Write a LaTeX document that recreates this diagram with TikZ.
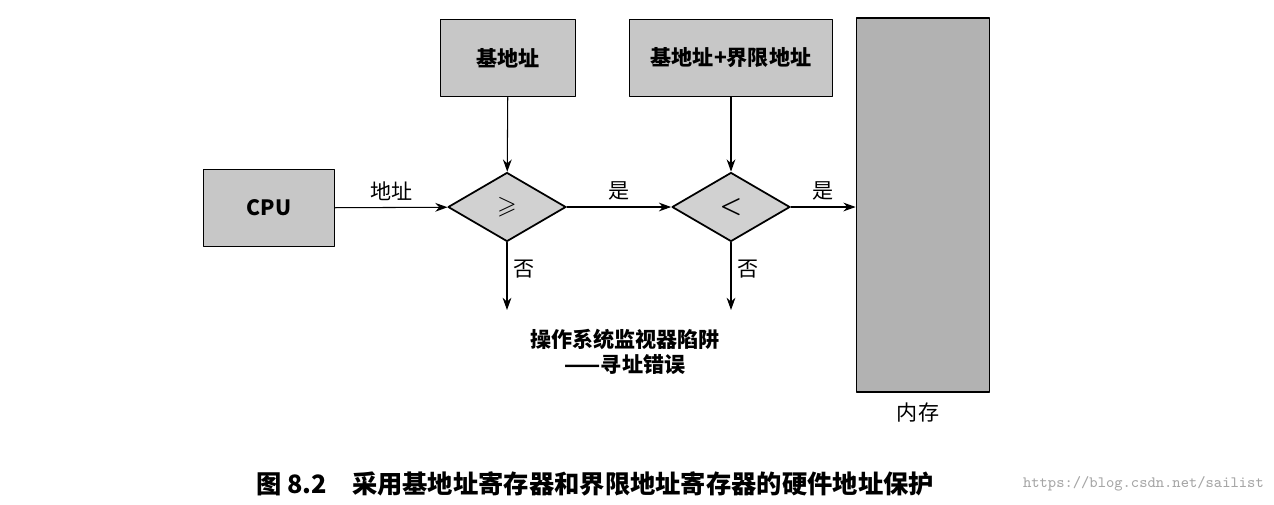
\documentclass[tikz,border=0pt]{standalone}
\usepackage{amssymb}
\usepackage{fontspec}
\newfontfamily\cjk{Noto Sans CJK SC}
\usetikzlibrary{shapes.geometric,arrows.meta}
\begin{document}
\begin{tikzpicture}[x=0.02cm,y=-0.02cm,line cap=round,line join=round,
    regbox/.style={draw,line width=1pt,fill=black!22,minimum width=2.7cm,minimum height=1.54cm,font=\cjk\bfseries\large},
    cmpbox/.style={draw,line width=1pt,fill=black!18,diamond,aspect=1.7,minimum width=2.36cm,minimum height=1.38cm,inner sep=0pt,font=\Large\boldmath},
    lbl/.style={font=\cjk\large},
    arr/.style={-{Stealth[length=7pt,width=5pt]},line width=0.6pt}]
  \useasboundingbox (0,0) rectangle (1274,504);
  % registers
  \node[regbox] (base) at (508,58) {基地址};
  \node[regbox,minimum width=4.06cm] (limit) at (731,58) {基地址+界限地址};
  \node[regbox,minimum width=2.62cm] (cpu) at (269,208) {CPU};
  \node[draw,line width=1pt,fill=black!30,minimum width=2.66cm,minimum height=7.48cm] (mem) at (923,205) {};
  \node[lbl] (memlbl) at (918,413) {内存};
  % comparators
  \node[cmpbox] (ge) at (507,207) {$\geqslant$};
  \node[cmpbox] (lt) at (731,207) {$<$};
  \coordinate (geout) at (507,310);
  \coordinate (ltout) at (731,310);
  % arrows
  \draw[arr] (base) -- (ge);
  \draw[arr] (limit) -- (lt);
  \draw[arr] (cpu) -- node[lbl,above] {地址} (ge);
  \draw[arr] (ge) -- node[lbl,above] {是} (lt);
  \draw[arr] (lt) -- node[lbl,above] {是} (mem.west |- lt);
  \draw[arr] (ge) -- node[lbl,right,pos=0.4] {否} (geout);
  \draw[arr] (lt) -- node[lbl,right,pos=0.4] {否} (ltout);
  \node[lbl,font=\cjk\bfseries\large,align=center] (trap) at (625,352) {操作系统监视器陷阱\\——寻址错误};
  \node[font=\cjk\bfseries\Large] (cap) at (595,484) {图 8.2\quad 采用基地址寄存器和界限地址寄存器的硬件地址保护};
  \node[font=\ttfamily\small,text=black!35,anchor=east] (url) at (1270,484) {https://blog.csdn.net/sailist};
\end{tikzpicture}
\end{document}
